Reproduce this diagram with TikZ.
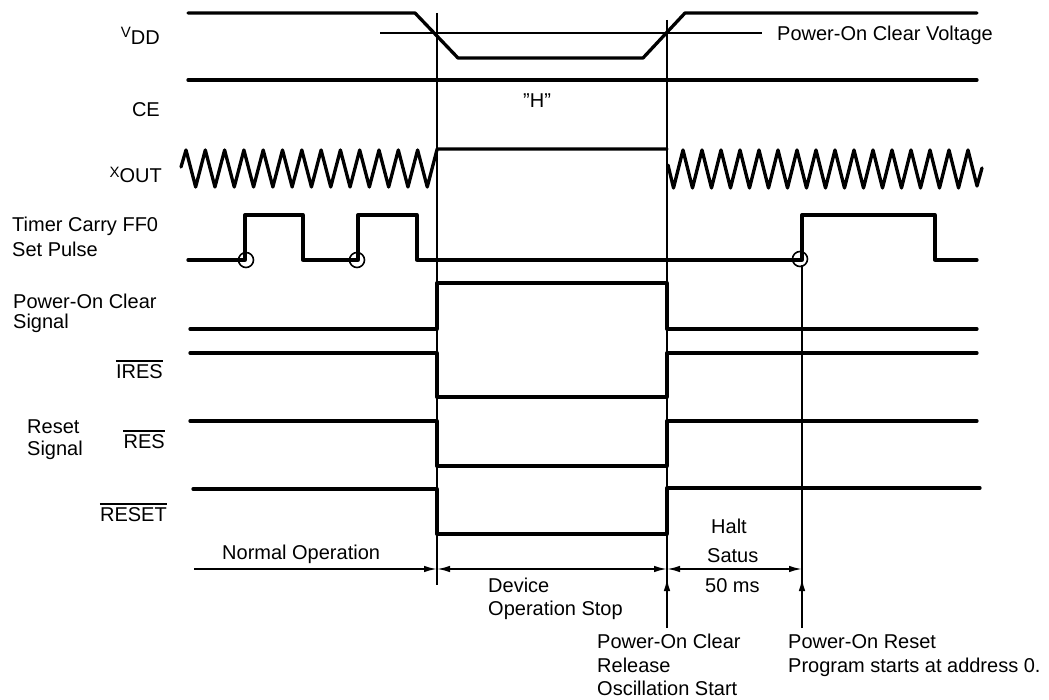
\documentclass[tikz,border=0pt]{standalone}
\usepackage{fontspec}
\setmainfont{Liberation Sans}
\usetikzlibrary{arrows.meta}
\tikzset{
  sig/.style={line width=3.3pt, line join=round, line cap=round},
  guide/.style={line width=1.5pt},
  txt/.style={font=\fontsize{20}{24}\selectfont, inner sep=0pt},
  arr/.style={line width=1.7pt, -{Latex[length=13pt,width=6.5pt]}},
  darr/.style={line width=1.7pt, {Latex[length=13pt,width=6.5pt]}-{Latex[length=13pt,width=6.5pt]}},
  ring/.style={line width=1.6pt},
  ovl/.style={line width=1.5pt}
}
\begin{document}
\begin{tikzpicture}[x=1pt,y=-1pt]
\useasboundingbox (0,0) rectangle (1049,700);

% ---- labels (left column)
\node[txt, anchor=base east] (vdd) at (160,45) {\raisebox{7pt}{\fontsize{15}{15}\selectfont V}DD};
\node[txt, anchor=base east] (ce) at (160,117) {CE};
\node[txt, anchor=base east] (xout) at (162,183) {\raisebox{5pt}{\fontsize{15}{15}\selectfont X}OUT};
\node[txt, anchor=base west] (tc1) at (12,232) {Timer Carry FF0};
\node[txt, anchor=base west] (tc2) at (12,257) {Set Pulse};
\node[txt, anchor=base west] (poc1) at (13,309) {Power-On Clear};
\node[txt, anchor=base west] (poc2) at (13,329) {Signal};
\node[txt, anchor=base east] (ires) at (163,378) {IRES};
\node[txt, anchor=base west] (rs1) at (27,433) {Reset};
\node[txt, anchor=base west] (rs2) at (27,455) {Signal};
\node[txt, anchor=base east] (res) at (165,448) {RES};
\node[txt, anchor=base east] (reset) at (167,521) {RESET};
\draw[ovl] ([yshift=3pt]ires.north west) -- ([yshift=3pt]ires.north east);
\draw[ovl] ([yshift=3pt]res.north west) -- ([yshift=3pt]res.north east);
\draw[ovl] ([yshift=3pt]reset.north west) -- ([yshift=3pt]reset.north east);

% ---- other texts
\node[txt, anchor=base west] (hh) at (523,108) {''H''};
\node[txt, anchor=base west] (pocv) at (777,41) {Power-On Clear Voltage};
\node[txt, anchor=base west] (normal) at (222,559) {Normal Operation};
\node[txt, anchor=base west] (dev1) at (488,592) {Device};
\node[txt, anchor=base west] (dev2) at (488,615) {Operation Stop};
\node[txt, anchor=base west] (halt1) at (711,533) {Halt};
\node[txt, anchor=base west] (halt2) at (707,562) {Satus};
\node[txt, anchor=base west] (halt3) at (705,592) {50 ms};
\node[txt, anchor=base west] (pcr1) at (597,648) {Power-On Clear};
\node[txt, anchor=base west] (pcr2) at (597,672) {Release};
\node[txt, anchor=base west] (pcr3) at (597,695) {Oscillation Start};
\node[txt, anchor=base west] (por1) at (788,648) {Power-On Reset};
\node[txt, anchor=base west] (por2) at (788,672) {Program starts at address 0.};

% ---- guide lines
\coordinate (L1t) at (437,13);
\coordinate (L1b) at (437,585);
\coordinate (L2t) at (667,20);
\coordinate (L2b) at (667,628);
\coordinate (L3t) at (802,265);
\coordinate (L3b) at (802,628);
\draw[guide] (L1t) -- (L1b);
\draw[guide] (L2t) -- (L2b);
\draw[guide] (L3t) -- (L3b);

% ---- VDD
\draw[sig] (188,13) -- (415,13) -- (458,58) -- (643,58) -- (685,13) -- (977,13);
\draw[line width=1.8pt] (380,33) -- (762,33);
% ---- CE
\draw[sig] (188,80) -- (977,80);
% ---- XOUT
\draw[sig] (181,167) -- (186,150)
  foreach \k in {0,...,12} { -- ({186+19.3*\k+9.65},187) -- ({186+19.3*(\k+1)},150) }
  -- (437,149) -- (667,149);
\draw[sig] (668,165) -- (673.5,188)
  foreach \k in {0,...,14} { -- ({683+19*\k},150) -- ({692.5+19*\k},188) }
  -- (968,150) -- (977,186) -- (982,168);
% ---- Timer carry FF0 set pulse
\draw[sig] (188,260) -- (245,260) -- (245,215) -- (303,215) -- (303,260) -- (358,260)
  -- (358,215) -- (417,215) -- (417,260) -- (802,260) -- (802,215) -- (935,215)
  -- (935,260) -- (977,260);
\draw[ring] (246,260) circle[radius=7.5pt];
\draw[ring] (357,260) circle[radius=7.5pt];
\draw[ring] (800,259) circle[radius=7.5pt];
% ---- Power-On Clear signal
\draw[sig] (190,329) -- (437,329) -- (437,283) -- (667,283) -- (667,329) -- (977,329);
% ---- IRES
\draw[sig] (190,353) -- (437,353) -- (437,397) -- (667,397) -- (667,353) -- (977,353);
% ---- RES
\draw[sig] (190,421) -- (437,421) -- (437,466) -- (667,466) -- (667,421) -- (977,421);
% ---- RESET
\draw[sig] (193,489) -- (437,489) -- (437,534) -- (667,534) -- (667,488) -- (980,488);

% ---- timing arrows
\coordinate (aN) at (194,569);
\coordinate (a1) at (437,569);
\coordinate (a2) at (667,569);
\coordinate (a3) at (802,569);
\draw[arr] (aN) -- (a1);
\draw[darr] (a1) -- (a2);
\draw[darr] (a2) -- (a3);
\coordinate (u2) at (667,578);
\coordinate (u3) at (802,578);
\draw[arr] (L2b) -- (u2);
\draw[arr] (L3b) -- (u3);
\end{tikzpicture}
\end{document}
